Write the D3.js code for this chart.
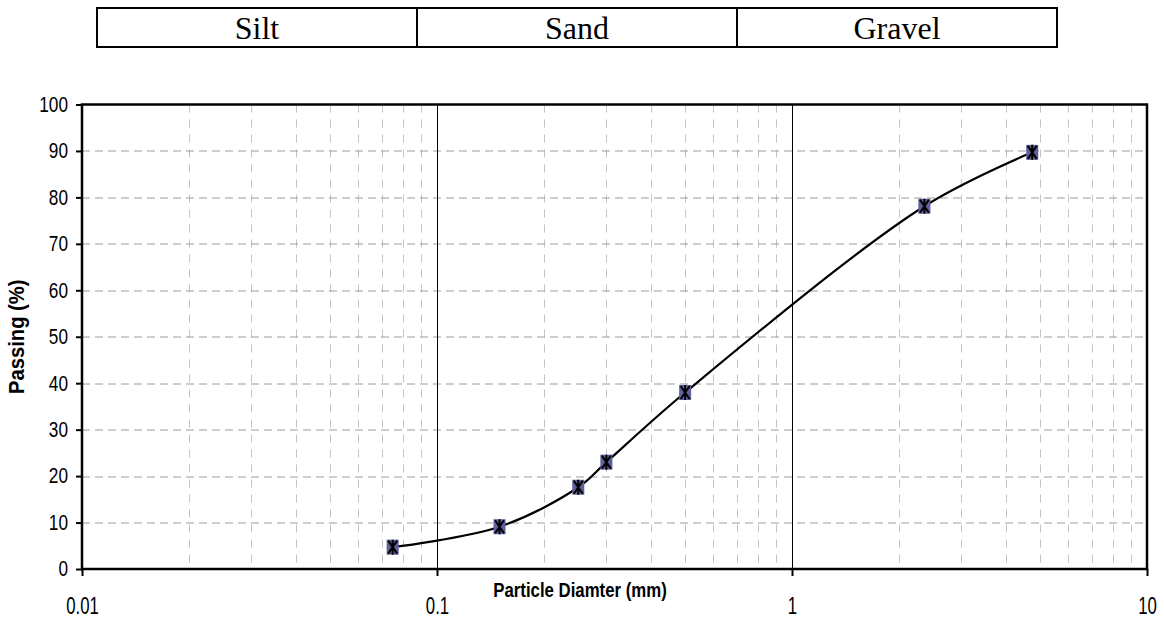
<!DOCTYPE html>
<html>
<head>
<meta charset="utf-8">
<script src="https://cdn.jsdelivr.net/npm/d3@7"></script>
<style>
  body { margin: 0; background: #fff; }
  svg { display: block; }
</style>
</head>
<body>
<div id="chart"></div>
<script>
// Soil classification bands shown above the chart
const soilBands = ["Silt", "Sand", "Gravel"];

// Sieve analysis: particle diameter (mm) and percent passing
const diameters = [0.075, 0.15, 0.25, 0.3, 0.5, 2.36, 4.75];
const passing = [4.7, 9.1, 17.6, 23.0, 38.0, 78.1, 89.7];

// Axis ticks
const xMajorTicks = [0.01, 0.1, 1, 10];
const yTicks = [0, 10, 20, 30, 40, 50, 60, 70, 80, 90, 100];

const sansFont = "'Liberation Sans Narrow', 'Arial Narrow', 'Liberation Sans', Arial, sans-serif";

// squeeze a text horizontally (no narrow font available)
function squeeze(sel, sx, sy) {
    sel.each(function () {
        const t = d3.select(this);
        const x0 = +t.attr("x") || 0;
        const y0 = +t.attr("y") || 0;
        t.attr("x", 0).attr("y", 0)
            .attr("transform", `translate(${x0}, ${y0}) scale(${sx}, ${sy})`);
    });
}

function drawChart() {
    const W = 1164, H = 621;
    const margin = { top: 104.5, right: 17, bottom: 52, left: 82 };
    const width = W - margin.left - margin.right;
    const height = H - margin.top - margin.bottom;

    const root = d3.select("#chart")
        .append("svg")
        .attr("width", W)
        .attr("height", H);

    // Band boxes (Silt / Sand / Gravel)
    const band = d3.scaleBand().domain(soilBands).range([97, 1057]);
    const boxes = root.append("g").attr("class", "bands");
    boxes.selectAll("rect")
        .data(soilBands)
        .enter()
        .append("rect")
        .attr("x", d => band(d))
        .attr("y", 8)
        .attr("width", band.bandwidth())
        .attr("height", 39)
        .attr("fill", "none")
        .attr("stroke", "#000")
        .attr("stroke-width", 2);
    boxes.selectAll("text")
        .data(soilBands)
        .enter()
        .append("text")
        .attr("x", d => band(d) + band.bandwidth() / 2)
        .attr("y", 39)
        .attr("text-anchor", "middle")
        .style("font-family", "'Liberation Serif', 'Times New Roman', serif")
        .style("font-size", "32px")
        .text(d => d);

    const svg = root.append("g")
        .attr("transform", `translate(${margin.left}, ${margin.top})`);

    const x = d3.scaleLog().domain([0.01, 10]).range([0, width]);
    const y = d3.scaleLinear().domain([0, 100]).range([height, 0]);

    // Minor vertical grid (2..9 in each decade)
    const minorTicks = [];
    for (let dec = 0.01; dec < 10; dec *= 10) {
        for (let k = 2; k <= 9; k++) minorTicks.push(+(dec * k).toPrecision(3));
    }
    svg.append("g")
        .selectAll("line")
        .data(minorTicks)
        .enter()
        .append("line")
        .attr("x1", d => Math.round(x(d)) + 0.5)
        .attr("x2", d => Math.round(x(d)) + 0.5)
        .attr("y1", 0)
        .attr("y2", height)
        .attr("stroke", "#c4c4c4")
        .attr("stroke-width", 1)
        .attr("stroke-dasharray", "8,7");

    // Horizontal grid
    svg.append("g")
        .selectAll("line")
        .data(yTicks.filter(d => d > 0 && d < 100))
        .enter()
        .append("line")
        .attr("x1", 0)
        .attr("x2", width)
        .attr("y1", d => Math.round(y(d)) + 0.5)
        .attr("y2", d => Math.round(y(d)) + 0.5)
        .attr("stroke", "#9c9c9c")
        .attr("stroke-width", 1)
        .attr("stroke-dasharray", "8,5");

    // Major vertical lines
    svg.append("g")
        .selectAll("line")
        .data(xMajorTicks.slice(1, -1))
        .enter()
        .append("line")
        .attr("x1", d => Math.round(x(d)) + 0.5)
        .attr("x2", d => Math.round(x(d)) + 0.5)
        .attr("y1", 0)
        .attr("y2", height)
        .attr("stroke", "#000")
        .attr("stroke-width", 1);

    // Plot frame
    svg.append("rect")
        .attr("x", 0)
        .attr("y", 0)
        .attr("width", width)
        .attr("height", height)
        .attr("fill", "none")
        .attr("stroke", "#000")
        .attr("stroke-width", 2.5);

    // X axis
    const xAxis = svg.append("g")
        .attr("transform", `translate(0, ${height})`)
        .call(d3.axisBottom(x)
            .tickValues(xMajorTicks)
            .tickFormat(d => String(d))
            .tickSize(7)
            .tickPadding(22));
    xAxis.select(".domain").remove();
    xAxis.selectAll(".tick line").attr("stroke", "#000").attr("stroke-width", 2);
    xAxis.selectAll(".tick text")
        .style("font-family", sansFont)
        .style("font-size", "21px")
        .attr("fill", "#000")
        .call(squeeze, 0.8, 1.1);

    // Y axis
    const yAxis = svg.append("g")
        .call(d3.axisLeft(y)
            .tickValues(yTicks)
            .tickSize(6)
            .tickPadding(8));
    yAxis.select(".domain").remove();
    yAxis.selectAll(".tick line").attr("stroke", "#000").attr("stroke-width", 2);
    yAxis.selectAll(".tick text")
        .style("font-family", sansFont)
        .style("font-size", "21px")
        .attr("fill", "#000")
        .call(squeeze, 0.82, 1.02);

    // Data
    const data = diameters.map((d, i) => ({ d, p: passing[i] }));

    const line = d3.line()
        .x(d => x(d.d))
        .y(d => y(d.p))
        .curve(d3.curveCatmullRom.alpha(0.5));

    svg.append("path")
        .datum(data)
        .attr("fill", "none")
        .attr("stroke", "#000")
        .attr("stroke-width", 2.2)
        .attr("d", line);

    // Markers: square with an asterisk-like cross
    const mw = 12, mh = 15;
    const markers = svg.selectAll(".marker")
        .data(data)
        .enter()
        .append("g")
        .attr("class", "marker")
        .attr("transform", d => `translate(${x(d.d)}, ${y(d.p)})`);
    markers.append("rect")
        .attr("x", -mw / 2)
        .attr("y", -mh / 2)
        .attr("width", mw)
        .attr("height", mh)
        .attr("fill", "#5f5f9c");
    markers.append("path")
        .attr("d", `M${-mw / 2 + 1.5},${-mh / 2 + 1}L${mw / 2 - 1.5},${mh / 2 - 1}M${mw / 2 - 1.5},${-mh / 2 + 1}L${-mw / 2 + 1.5},${mh / 2 - 1}M0,${-mh / 2}L0,${mh / 2}`)
        .attr("stroke", "#000")
        .attr("stroke-width", 2)
        .attr("fill", "none");

    // Axis titles
    svg.append("text")
        .attr("transform", `translate(498, ${height + 28}) scale(0.8, 1)`)
        .attr("text-anchor", "middle")
        .style("font-family", sansFont)
        .style("font-size", "21px")
        .style("font-weight", "bold")
        .text("Particle Diamter (mm)");

    svg.append("text")
        .attr("transform", `translate(${-58}, ${height / 2}) rotate(-90) scale(0.92, 1)`)
        .attr("text-anchor", "middle")
        .style("font-family", sansFont)
        .style("font-size", "22px")
        .style("font-weight", "bold")
        .text("Passing (%)");
}

drawChart();
</script>
</body>
</html>
